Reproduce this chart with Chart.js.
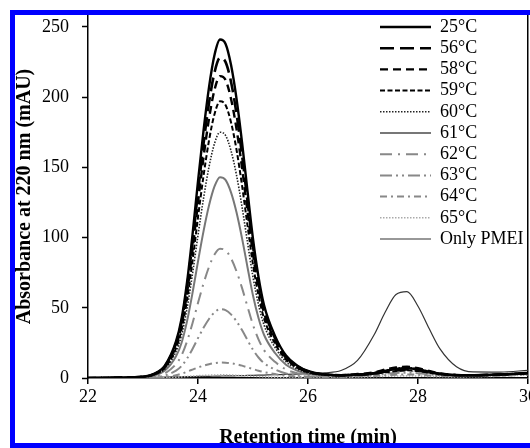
<!DOCTYPE html>
<html>
<head>
<meta charset="utf-8">
<script src="https://cdn.jsdelivr.net/npm/chart.js@4.4.0/dist/chart.umd.min.js"></script>
<style>
html,body{margin:0;padding:0;background:#fff;overflow:hidden}
#wrap{position:relative;width:530px;height:448px}
#frame{position:absolute;left:10px;top:10px;width:540px;height:428px;border:5px solid #0000ff;pointer-events:none}
canvas{display:block}
</style>
</head>
<body>
<div id="wrap"><canvas id="c" width="530" height="448"></canvas><div id="frame"></div></div>
<script>
// Retention time grid (min)
const times = [22.0, 22.5, 23.0, 23.2, 23.4, 23.6, 23.7, 23.8, 23.9, 24.0, 24.1, 24.2, 24.3, 24.4, 24.5, 24.6, 24.7, 24.8, 24.9, 25.0, 25.1, 25.2, 25.4, 25.6, 25.8, 26.0, 26.3, 26.6, 26.9, 27.2, 27.4, 27.6, 27.8, 28.0, 28.2, 28.4, 28.7, 29.0, 29.5, 30.0];

// Absorbance at 220 nm (mAU)
const s25 = [0, 0.3, 1, 3, 9, 26, 42, 68, 102, 140, 176, 207, 230, 241, 238, 223, 199, 168, 133, 99, 72, 52, 30, 16, 9, 5, 2.5, 2, 2.5, 3.5, 5, 6.5, 7, 6, 4.5, 3, 2, 2, 2.5, 3.5];
const s56 = [0, 0.3, 0.9, 2.8, 8.5, 24.6, 39.7, 64.3, 96.5, 132.4, 166.5, 195.8, 217.6, 228, 225.1, 211, 188.3, 158.9, 125.8, 93.7, 68.1, 49.2, 28.4, 15.1, 8.5, 4.7, 2.5, 2, 2.3, 3, 4.5, 5.5, 6, 5.5, 4, 2.8, 2, 2, 2.5, 3.5];
const s58 = [0, 0.3, 0.9, 2.7, 8, 23.2, 37.5, 60.7, 91, 124.9, 157, 184.6, 205.2, 215, 212.3, 198.9, 177.5, 149.9, 118.6, 88.3, 64.2, 46.4, 26.8, 14.3, 8, 4.5, 2.5, 2, 2.8, 4, 6, 7.5, 8, 7, 5, 3.2, 2.2, 2, 2.5, 3.5];
const s59 = [0, 0.2, 0.8, 2.5, 7.4, 21.2, 34.3, 55.6, 83.3, 114.4, 143.8, 169.1, 187.9, 197, 194.4, 182.2, 162.6, 137.3, 108.7, 80.9, 58.8, 42.5, 24.5, 13.1, 7.4, 4.1, 2.3, 1.8, 2.2, 3, 4, 5, 5.5, 5, 3.8, 2.6, 2, 2, 2.4, 3.4];
const s60 = [0, 0.2, 0.7, 2.2, 6.5, 18.9, 30.5, 49.4, 74.1, 101.6, 127.8, 150.3, 167, 175, 172.8, 161.9, 144.5, 122, 96.6, 71.9, 52.3, 37.8, 21.8, 11.6, 6.5, 3.6, 2.2, 2, 2.6, 3.8, 5.5, 7, 7.5, 6.5, 4.8, 3, 2.2, 2, 2.5, 3.5];
const s61 = [0, 0.2, 0.6, 1.8, 5.3, 15.4, 24.9, 40.3, 60.5, 83, 104.4, 122.8, 136.4, 143, 141.1, 132.2, 118, 99.6, 78.9, 58.7, 42.7, 30.8, 17.8, 9.5, 5.3, 3, 2.2, 2, 2.5, 3.5, 5, 6.5, 7, 6.2, 4.5, 3, 2.2, 2, 2.5, 3.5];
const s62 = [0, 0.1, 0.4, 1.1, 3.4, 9.9, 16, 26, 39, 53.5, 67.2, 79.1, 87.9, 92, 90.9, 85.2, 76, 64.2, 50.8, 37.8, 27.5, 19.9, 11.5, 6.1, 3.4, 1.9, 1.5, 1.5, 2, 2.8, 3.8, 4.8, 5, 4.5, 3.5, 2.5, 1.8, 1.8, 2.2, 3.2];
const s63 = [0, 0.1, 0.2, 0.6, 1.8, 5.3, 8.5, 13.8, 20.7, 28.4, 35.7, 42, 46.7, 49, 48.3, 45.3, 40.4, 34.1, 27, 20.1, 14.6, 10.6, 6.1, 3.2, 1.8, 1, 1, 1.2, 1.6, 2.2, 3, 3.6, 3.8, 3.4, 2.6, 2, 1.5, 1.5, 2, 3];
const s64 = [0, 0, 0.1, 0.2, 0.6, 2, 3, 4.5, 6, 7.5, 8.8, 9.8, 10.6, 11, 10.9, 10.5, 9.8, 8.8, 7.6, 6.4, 5.2, 4.2, 2.8, 1.6, 1, 0.6, 0.6, 0.8, 1.1, 1.5, 2, 2.4, 2.5, 2.3, 1.8, 1.4, 1.2, 1.2, 1.6, 2.5];
const s65 = [0, 0, 0, 0.1, 0.2, 0.5, 0.8, 1.1, 1.4, 1.6, 1.8, 2, 2.1, 2.2, 2.2, 2.1, 1.9, 1.7, 1.5, 1.2, 1, 0.8, 0.5, 0.3, 0.2, 0.2, 0.3, 0.5, 0.7, 0.9, 1.2, 1.4, 1.5, 1.4, 1.1, 0.9, 0.8, 0.9, 1.3, 2.2];
const pmei = [0, 0, 0.3, 0.5, 0.6, 0.8, 0.9, 1, 1, 1.1, 1.2, 1.2, 1.3, 1.4, 1.5, 1.5, 1.6, 1.7, 1.8, 1.9, 2, 2.1, 2.3, 2.6, 2.8, 3, 3.7, 5.3, 12.5, 30.6, 46.7, 59.5, 61.5, 51.1, 35.4, 20.7, 8, 4.3, 4.2, 5.5];

const seriesLabels = ['25°C', '56°C', '58°C', '59°C', '60°C', '61°C', '62°C', '63°C', '64°C', '65°C', 'Only PMEI'];
const seriesValues = [s25, s56, s58, s59, s60, s61, s62, s63, s64, s65, pmei];
const xTicks = [22, 24, 26, 28, 30];
const yTicks = [0, 50, 100, 150, 200, 250];

const styles = [
  {c: '#000', w: 2.4, d: []},
  {c: '#000', w: 2.6, d: [14, 6]},
  {c: '#000', w: 2.4, d: [8, 5]},
  {c: '#000', w: 2.0, d: [5, 2.5]},
  {c: '#222', w: 1.6, d: [1.5, 1.5]},
  {c: '#777', w: 2.0, d: []},
  {c: '#888', w: 2.0, d: [12, 6, 2, 6]},
  {c: '#888', w: 2.0, d: [12, 4, 2, 4, 2, 4]},
  {c: '#888', w: 2.0, d: [7, 4, 2, 4]},
  {c: '#aaa', w: 1.6, d: [1.5, 1.5]},
  {c: '#333', w: 1.2, d: []}
];

const FONT = "'Liberation Serif', 'Times New Roman', serif";
Chart.defaults.font.family = FONT;
Chart.defaults.color = '#000';

const datasets = seriesLabels.map((lab, k) => ({
  label: lab,
  data: times.map((t, i) => ({x: t, y: seriesValues[k][i]})),
  borderColor: styles[k].c,
  borderWidth: styles[k].w,
  borderDash: styles[k].d,
  pointRadius: 0,
  fill: false,
  cubicInterpolationMode: 'monotone'
}));

const legendPlace = {
  id: 'legendPlace',
  afterLayout(chart) {
    const l = chart.legend;
    if (!l) return;
    l.left = 376.8; l.top = 14.8; l.right = 530; l.bottom = 300;
    l.width = l.right - l.left; l.height = l.bottom - l.top;
  }
};

new Chart(document.getElementById('c'), {
  type: 'line',
  data: {datasets},
  options: {
    responsive: false,
    devicePixelRatio: 1,
    animation: false,
    layout: {padding: {left: 0, right: 2, top: 15, bottom: 0}},
    scales: {
      x: {
        type: 'linear', min: 22, max: 30,
        afterBuildTicks(s) { s.ticks = xTicks.map(v => ({value: v})); },
        afterFit(s) { s.height = 70; s.paddingLeft = 0; s.paddingRight = 0; },
        ticks: {font: {size: 18}, color: '#000', padding: 2, maxRotation: 0},
        grid: {
          color: ctx => (ctx.tick && ctx.tick.value === 30) ? '#000' : 'rgba(0,0,0,0)',
          lineWidth: 1.5, tickColor: '#000', tickLength: 6, tickWidth: 1.5
        },
        border: {display: true, color: '#000', width: 1.5},
        title: {display: true, text: 'Retention time (min)', color: '#000',
          font: {size: 20, weight: 'bold', lineHeight: 1}, padding: {top: 0, bottom: 0}}
      },
      y: {
        min: 0, max: 258.5,
        afterBuildTicks(s) { s.ticks = yTicks.map(v => ({value: v})); },
        afterFit(s) { s.width = 88; s.paddingTop = 0; s.paddingBottom = 0; },
        ticks: {font: {size: 18}, color: '#000', padding: 13},
        grid: {drawOnChartArea: false, tickColor: '#000', tickLength: 6, tickWidth: 1.5},
        border: {display: true, color: '#000', width: 1.5},
        title: {display: true, text: 'Absorbance at 220 nm (mAU)', color: '#000',
          font: {size: 20, weight: 'bold', lineHeight: 1}, padding: {top: 15, bottom: 0}}
      }
    },
    plugins: {
      tooltip: {enabled: false},
      legend: {
        position: 'chartArea',
        align: 'start',
        labels: {
          usePointStyle: true,
          pointStyle: 'line',
          pointStyleWidth: 51,
          boxHeight: 18,
          padding: 3.2,
          color: '#000',
          font: {size: 18},
          generateLabels(chart) {
            return chart.data.datasets.map((ds, i) => ({
              text: ds.label, fillStyle: 'rgba(0,0,0,0)', strokeStyle: ds.borderColor,
              lineWidth: ds.borderWidth, lineDash: ds.borderDash, lineCap: 'butt',
              pointStyle: 'line', hidden: false, datasetIndex: i, fontColor: '#000'
            }));
          }
        }
      }
    }
  },
  plugins: [legendPlace]
});
</script>
</body>
</html>
